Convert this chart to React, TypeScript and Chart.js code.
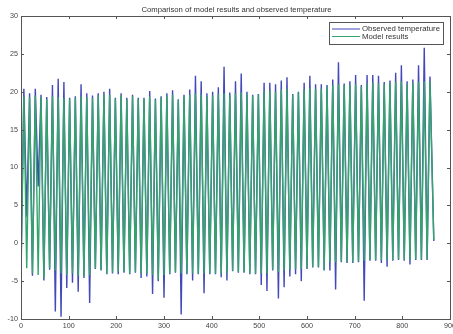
import React, { useEffect, useRef } from 'react';
import { Chart, registerables } from 'chart.js';

Chart.register(...registerables);

const TITLE = 'Comparison of model results and observed temperature';
const SERIES_NAMES = ['Observed temperature', 'Model results'];
const X_MIN = 0;
const X_MAX = 900;
const X_STEP = 100;
const Y_MIN = -10;
const Y_MAX = 30;
const Y_STEP = 5;

// monthly series: one trough (winter) and one peak (summer) per 12-step cycle
const PERIOD = 12;
const PEAK_OFFSET = 6;
const END_X = 866;

const observedTroughs = [
  -3.5, 3.5, -4.3, 7.5, -4.9, -3.5, -9.0, -9.7, -5.9, -5.2, -6.4, -4.6, -7.9,
  -3.4, -3.6, -4.1, -4.0, -4.1, -3.9, -4.1, -3.9, -4.6, -4.4, -6.7, -5.0, -7.2,
  -4.1, -3.9, -9.4, -4.1, -4.9, -4.1, -6.6, -4.1, -4.1, -4.5, -4.9, -3.7, -3.9,
  -3.9, -4.1, -4.1, -5.5, -6.3, -3.6, -7.3, -5.8, -4.4, -4.1, -5.0, -3.4, -3.2,
  -3.2, -3.6, -3.6, -6.1, -2.5, -2.6, -2.6, -2.5, -7.6, -2.3, -2.3, -2.6, -3.1,
  -2.3, -2.2, -2.3, -2.8, -2.2, -2.2, -2.2,
];
const observedPeaks = [
  20.4, 19.8, 20.4, 19.6, 19.3, 20.9, 21.7, 21.3, 19.2, 19.4, 21.0, 19.8, 19.5,
  19.8, 20.0, 20.4, 19.2, 19.8, 19.2, 19.6, 19.2, 19.2, 20.1, 19.1, 19.4, 19.8,
  20.2, 19.0, 19.6, 20.3, 22.1, 21.4, 19.8, 20.0, 20.6, 23.3, 19.9, 21.4, 22.4,
  20.0, 19.6, 19.7, 21.2, 21.2, 21.0, 21.5, 21.9, 19.7, 20.0, 21.2, 22.1, 21.0,
  21.0, 20.9, 21.6, 23.9, 21.1, 21.4, 22.2, 20.9, 22.2, 22.2, 22.1, 21.3, 21.5,
  22.5, 23.5, 21.4, 21.6, 23.5, 25.8, 22.0,
];
const observedEnd = 0.3;

const modelTroughs = [
  -4.5, -3.3, -4.0, -4.2, -4.6, -3.3, -3.6, -4.0, -4.2, -4.0, -4.3, -4.4, -4.2,
  -3.3, -3.5, -4.0, -3.9, -3.7, -3.8, -4.0, -3.8, -4.0, -4.0, -4.2, -4.8, -4.2,
  -4.0, -3.8, -4.0, -4.0, -4.0, -4.0, -4.0, -4.0, -4.0, -4.0, -4.0, -3.6, -3.8,
  -3.8, -4.0, -4.0, -4.0, -4.0, -3.5, -3.8, -3.6, -3.5, -3.4, -3.4, -3.3, -3.1,
  -3.1, -3.5, -2.5, -2.5, -2.4, -2.5, -2.5, -2.4, -2.3, -2.2, -2.2, -2.2, -2.2,
  -2.2, -2.1, -2.2, -2.2, -2.1, -2.1, -2.1,
];
const modelPeaks = [
  19.4, 19.3, 19.5, 19.3, 19.0, 19.4, 19.3, 19.2, 19.0, 19.2, 19.4, 19.3, 19.2,
  19.5, 19.6, 19.6, 19.1, 19.5, 19.0, 19.4, 19.0, 19.1, 19.4, 18.9, 19.2, 19.5,
  19.6, 18.9, 19.4, 19.6, 19.8, 19.6, 19.4, 19.5, 19.7, 19.8, 19.6, 19.8, 19.9,
  19.7, 19.5, 19.6, 20.1, 20.2, 20.0, 20.3, 20.4, 19.6, 19.9, 20.3, 20.5, 20.4,
  20.4, 20.7, 20.9, 21.0, 20.9, 20.9, 21.0, 20.7, 21.1, 21.2, 21.1, 21.0, 21.2,
  21.3, 21.4, 21.0, 21.2, 21.3, 21.4, 21.4,
];
const modelEnd = 0.4;

const COLORS = ['#4349b8', '#35a46c'];
const FONT = '"Liberation Sans", Arial, Helvetica, sans-serif';

function buildSeries(troughs: number[], peaks: number[], endValue: number) {
  const pts: { x: number; y: number }[] = [];
  for (let k = 0; k < troughs.length; k++) {
    pts.push({ x: k * PERIOD, y: troughs[k] });
    if (k < peaks.length) pts.push({ x: k * PERIOD + PEAK_OFFSET, y: peaks[k] });
  }
  pts.push({ x: END_X, y: endValue });
  return pts;
}

const framePlugin = {
  id: 'matlabFrame',
  afterDraw(chart: any) {
    const { ctx, chartArea } = chart;
    const { left, right, top, bottom } = chartArea;
    ctx.save();
    // box
    ctx.strokeStyle = '#555';
    ctx.lineWidth = 1;
    ctx.strokeRect(Math.round(left) + 0.5, Math.round(top) + 0.5, Math.round(right - left), Math.round(bottom - top));
    // inward ticks
    const tl = 3;
    const xs = chart.scales.x;
    const ys = chart.scales.y;
    ctx.beginPath();
    xs.ticks.forEach((t: any) => {
      const px = Math.round(xs.getPixelForValue(t.value)) + 0.5;
      ctx.moveTo(px, bottom);
      ctx.lineTo(px, bottom - tl);
      ctx.moveTo(px, top);
      ctx.lineTo(px, top + tl);
    });
    ys.ticks.forEach((t: any) => {
      const py = Math.round(ys.getPixelForValue(t.value)) + 0.5;
      ctx.moveTo(left, py);
      ctx.lineTo(left + tl, py);
      ctx.moveTo(right, py);
      ctx.lineTo(right - tl, py);
    });
    ctx.stroke();
    // title
    ctx.fillStyle = '#333';
    ctx.font = `7.7px ${FONT}`;
    ctx.textAlign = 'center';
    ctx.textBaseline = 'middle';
    ctx.fillText(TITLE, (left + right) / 2 + 1, 9.5);
    // legend
    const bx = right - 121;
    const by = top + 6;
    const bw = 114;
    const bh = 22;
    ctx.fillStyle = '#fff';
    ctx.fillRect(bx, by, bw, bh);
    ctx.strokeStyle = '#555';
    ctx.strokeRect(Math.round(bx) + 0.5, Math.round(by) + 0.5, bw, bh);
    ctx.font = `7.8px ${FONT}`;
    ctx.textAlign = 'left';
    SERIES_NAMES.forEach((name, i) => {
      const ry = by + 7 + i * 7.5;
      ctx.strokeStyle = COLORS[i];
      ctx.lineWidth = 1;
      ctx.beginPath();
      ctx.moveTo(bx + 3, ry);
      ctx.lineTo(bx + 31, ry);
      ctx.stroke();
      ctx.fillStyle = '#333';
      ctx.fillText(name, bx + 33, ry);
    });
    ctx.restore();
  },
};

export default function App() {
  const ref = useRef<HTMLCanvasElement | null>(null);

  useEffect(() => {
    if (!ref.current) return;
    const chart = new Chart(ref.current, {
      type: 'line',
      data: {
        datasets: [
          {
            label: SERIES_NAMES[0],
            data: buildSeries(observedTroughs, observedPeaks, observedEnd),
            borderColor: COLORS[0],
            borderWidth: 1.4,
            pointRadius: 0,
            tension: 0,
            order: 2,
          },
          {
            label: SERIES_NAMES[1],
            data: buildSeries(modelTroughs, modelPeaks, modelEnd),
            borderColor: COLORS[1],
            borderWidth: 1.4,
            pointRadius: 0,
            tension: 0,
            order: 1,
          },
        ],
      },
      options: {
        animation: false,
        responsive: false,
        devicePixelRatio: 1,
        parsing: false,
        layout: { padding: { top: 16, right: 3, left: 0, bottom: 0 }, autoPadding: false },
        plugins: { legend: { display: false }, title: { display: false }, tooltip: { enabled: false } },
        scales: {
          x: {
            type: 'linear',
            min: X_MIN,
            max: X_MAX,
            grid: { display: false, drawTicks: false },
            border: { display: false },
            ticks: { stepSize: X_STEP, color: '#444', font: { size: 7.2, family: FONT }, padding: 3, maxRotation: 0, autoSkip: false },
            afterFit: (s: any) => { s.height = 15; s.paddingLeft = 0; s.paddingRight = 0; },
          },
          y: {
            type: 'linear',
            min: Y_MIN,
            max: Y_MAX,
            grid: { display: false, drawTicks: false },
            border: { display: false },
            ticks: { stepSize: Y_STEP, color: '#444', font: { size: 7.2, family: FONT }, padding: 3 },
            afterFit: (s: any) => { s.width = 21; s.paddingTop = 0; s.paddingBottom = 0; },
          },
        },
      },
      plugins: [framePlugin],
    } as any);
    return () => chart.destroy();
  }, []);

  return (
    <div style={{ position: 'fixed', left: 0, top: 0, width: 453, height: 334, background: '#fff' }}>
      <canvas ref={ref} width={453} height={334} />
    </div>
  );
}
